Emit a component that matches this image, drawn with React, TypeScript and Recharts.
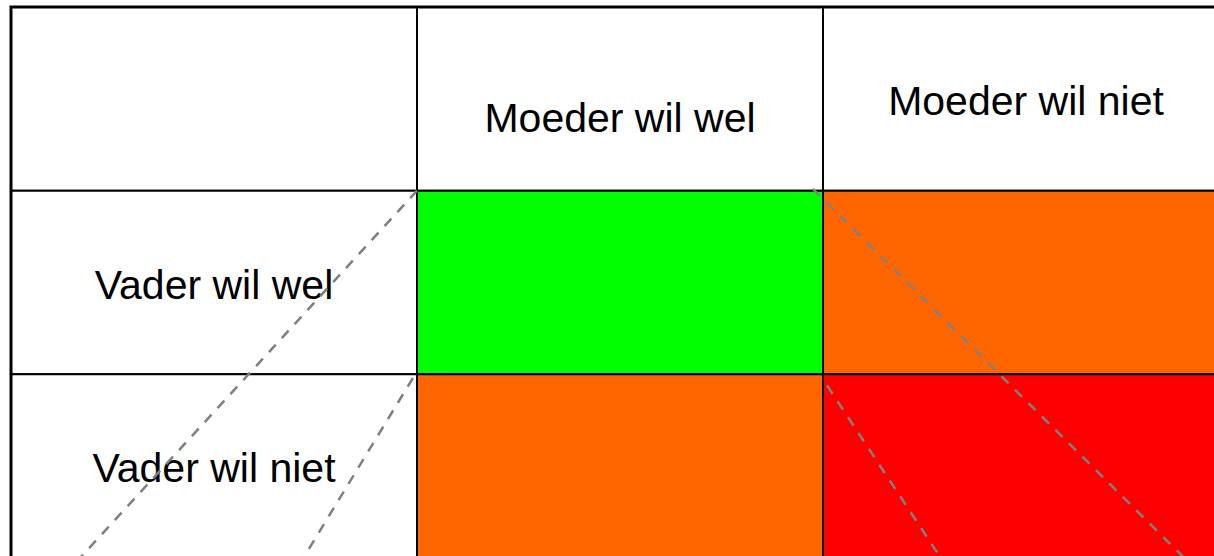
import { ComposedChart, XAxis, YAxis, ReferenceArea, ReferenceLine, Scatter } from "recharts";

// header texts of the 2x2 matrix
const colLabels = ["Moeder wil wel", "Moeder wil niet"];
const rowLabels = ["Vader wil wel", "Vader wil niet"];

// outcome per cell [row][col]
const outcomes = [
  ["agree", "conflict"],
  ["conflict", "refuse"],
];

// dashed guide lines, in grid units (col, row)
const guideLines = [
  { from: [1, 1], to: [0.17, 3] },
  { from: [0.99, 2.02], to: [0.72, 3] },
  { from: [1.975, 0.99], to: [2.89, 3] },
  { from: [2.01, 2.06], to: [2.29, 3] },
];

const outcomeColors: Record<string, string> = {
  agree: "#00ff00",
  conflict: "#ff6600",
  refuse: "#ff0000",
};

const FONT = "'Liberation Sans', Arial, sans-serif";

// grid corners, only so the chart has something to lay out
const gridCorners = [
  { x: 0, y: 0 },
  { x: 3, y: 3 },
];

function CellLabel({ viewBox, value, shift = 0 }: any) {
  if (!viewBox) return null;
  const { x, y, width, height } = viewBox;
  return (
    <text
      x={x + width / 2}
      y={y + height / 2 + 16 + shift}
      textAnchor="middle"
      fontSize={41}
      fontFamily={FONT}
      fill="#000"
    >
      {value}
    </text>
  );
}

export default function App() {
  const headerShift = [17, 0];

  return (
    <div
      style={{
        position: "fixed",
        left: 0,
        top: 0,
        width: 1214,
        height: 556,
        overflow: "hidden",
        background: "#fff",
      }}
    >
      <ComposedChart
        width={1240}
        height={570}
        data={gridCorners}
        margin={{ top: 7, right: 11, bottom: 12, left: 11 }}
      >
        <XAxis type="number" dataKey="x" domain={[0, 3]} hide />
        <YAxis type="number" dataKey="y" domain={[0, 3]} reversed hide />
        <Scatter dataKey="y" isAnimationActive={false} shape={() => <g />} />

        {/* empty corner */}
        <ReferenceArea x1={0} x2={1} y1={0} y2={1} fill="#fff" fillOpacity={1} stroke="#000" strokeWidth={2} />

        {colLabels.map((label, c) => (
          <ReferenceArea
            key={"col" + c}
            x1={c + 1}
            x2={c + 2}
            y1={0}
            y2={1}
            fill="#fff"
            fillOpacity={1}
            stroke="#000"
            strokeWidth={2}
            label={(p: any) => <CellLabel {...p} value={label} shift={headerShift[c]} />}
          />
        ))}

        {rowLabels.map((label, r) => (
          <ReferenceArea
            key={"row" + r}
            x1={0}
            x2={1}
            y1={r + 1}
            y2={r + 2}
            fill="#fff"
            fillOpacity={1}
            stroke="#000"
            strokeWidth={2}
            label={(p: any) => <CellLabel {...p} value={label} />}
          />
        ))}

        {outcomes.map((row, r) =>
          row.map((o, c) => (
            <ReferenceArea
              key={`cell${r}${c}`}
              x1={c + 1}
              x2={c + 2}
              y1={r + 1}
              y2={r + 2}
              fill={outcomeColors[o]}
              fillOpacity={1}
              stroke="#000"
              strokeWidth={2}
            />
          ))
        )}

        {/* outer frame */}
        <ReferenceArea x1={0} x2={3} y1={0} y2={3} fill="none" stroke="#000" strokeWidth={3} />

        {guideLines.map((l, i) => (
          <ReferenceLine
            key={"g" + i}
            segment={[
              { x: l.from[0], y: l.from[1] },
              { x: l.to[0], y: l.to[1] },
            ]}
            stroke="#808080"
            strokeWidth={2.5}
            strokeDasharray="10 9"
            ifOverflow="visible"
          />
        ))}
      </ComposedChart>
    </div>
  );
}
